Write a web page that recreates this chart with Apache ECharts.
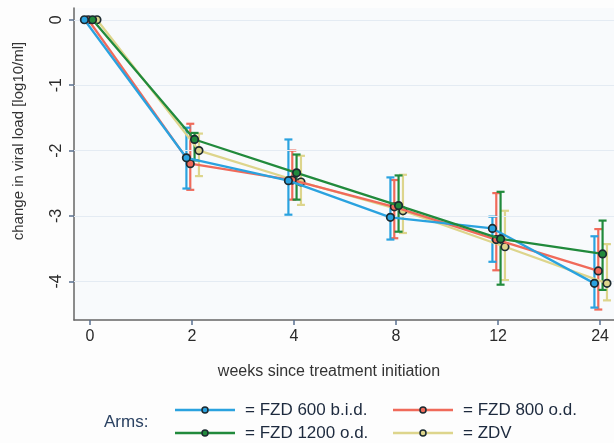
<!DOCTYPE html>
<html><head><meta charset="utf-8">
<script src="https://cdn.jsdelivr.net/npm/echarts@6/dist/echarts.min.js"></script>
<style>html,body{margin:0;padding:0;background:#fdfdfd}#c{width:614px;height:443px}</style>
</head><body><div id="c"></div>
<script>
var weeks = ['0', '2', '4', '8', '12', '24'];
var seriesNames = ['FZD 600 b.i.d.', 'FZD 800 o.d.', 'FZD 1200 o.d.', 'ZDV'];
var blueMean = [0, -2.11, -2.46, -3.02, -3.19, -4.03];
var blueLow = [null, -2.58, -2.98, -3.36, -3.70, -4.40];
var blueHigh = [null, -1.65, -1.83, -2.41, -3.01, -3.31];
var redMean = [0, -2.20, -2.45, -2.86, -3.36, -3.84];
var redLow = [null, -2.60, -2.75, -3.34, -3.83, -4.43];
var redHigh = [null, -1.59, -2.00, -2.45, -2.65, -3.20];
var greenMean = [0, -1.83, -2.34, -2.84, -3.35, -3.58];
var greenLow = [null, -2.15, -2.75, -3.24, -4.05, -4.13];
var greenHigh = [null, -1.73, -2.06, -2.38, -2.63, -3.07];
var yellowMean = [0, -2.00, -2.48, -2.92, -3.47, -4.03];
var yellowLow = [null, -2.39, -2.83, -3.26, -3.98, -4.29];
var yellowHigh = [null, -1.74, -2.08, -2.37, -2.92, -3.43];
var yTicks = [0, -1, -2, -3, -4];

var colors = ['#2aa2df', '#f06a5a', '#218a3c', '#ddd58c'];
var offsets = [-0.055, -0.017, 0.025, 0.068];
var means = [blueMean, redMean, greenMean, yellowMean];
var lows = [blueLow, redLow, greenLow, yellowLow];
var highs = [blueHigh, redHigh, greenHigh, yellowHigh];
var FONT = '"Liberation Sans", Arial, sans-serif';

var series = [];
var order = [3, 1, 0, 2];
order.forEach(function (k, idx) {
  var errData = [];
  weeks.forEach(function (w, i) {
    if (lows[k][i] !== null) errData.push([i + offsets[k], lows[k][i], highs[k][i]]);
  });
  series.push({
    type: 'custom', name: seriesNames[k] + ' err', z: 2 + idx,
    data: errData, silent: true,
    encode: { x: 0, y: [1, 2] },
    renderItem: function (params, api) {
      var x = api.value(0);
      var lo = api.coord([x, api.value(1)]);
      var hi = api.coord([x, api.value(2)]);
      var hw = 4;
      var st = { stroke: colors[k], lineWidth: 2.2 };
      return { type: 'group', children: [
        { type: 'line', shape: { x1: lo[0], y1: lo[1], x2: hi[0], y2: hi[1] }, style: st },
        { type: 'line', shape: { x1: lo[0] - hw, y1: lo[1], x2: lo[0] + hw, y2: lo[1] }, style: st },
        { type: 'line', shape: { x1: hi[0] - hw, y1: hi[1], x2: hi[0] + hw, y2: hi[1] }, style: st }
      ]};
    }
  });
});
order.forEach(function (k, idx) {
  series.push({
    type: 'line', name: seriesNames[k], z: 10 + idx,
    data: means[k].map(function (v, i) { return [i + offsets[k], v]; }),
    symbol: 'circle', symbolSize: 7.5,
    lineStyle: { color: colors[k], width: 2.3 },
    itemStyle: { color: colors[k], borderColor: '#1c2a30', borderWidth: 1.7 },
    emphasis: { disabled: true }
  });
});

var legendItems = [
  { k: 0, x: 175, y: 410 }, { k: 1, x: 393, y: 410 },
  { k: 2, x: 175, y: 433 }, { k: 3, x: 393, y: 433 }
];
var graphics = [
  { type: 'text', x: 19, y: 141, rotation: Math.PI / 2,
    style: { text: 'change in viral load [log10/ml]', font: '15px ' + FONT,
      fill: '#333', align: 'center', verticalAlign: 'middle' } },
  { type: 'text', x: 329, y: 372,
    style: { text: 'weeks since treatment initiation', font: '16px ' + FONT,
      fill: '#333', align: 'center', verticalAlign: 'middle' } },
  { type: 'text', x: 104, y: 422,
    style: { text: 'Arms:', font: '17px ' + FONT,
      fill: '#2b4262', align: 'left', verticalAlign: 'middle' } }
];
legendItems.forEach(function (it) {
  graphics.push({ type: 'line', shape: { x1: it.x, y1: it.y, x2: it.x + 60, y2: it.y },
    style: { stroke: colors[it.k], lineWidth: 2.3 } });
  graphics.push({ type: 'circle', shape: { cx: it.x + 30, cy: it.y, r: 3 },
    style: { fill: colors[it.k], stroke: '#1c2a30', lineWidth: 1.5 } });
  graphics.push({ type: 'text', x: it.x + 70, y: it.y,
    style: { text: '= ' + seriesNames[it.k], font: '17px ' + FONT,
      fill: '#1d2a3e', align: 'left', verticalAlign: 'middle' } });
});

var chart = echarts.init(document.getElementById('c'), null, { renderer: 'canvas' });
chart.setOption({
  backgroundColor: '#fdfdfd',
  animation: false,
  grid: { left: 74, top: 8, right: 0, bottom: 123, show: true, backgroundColor: '#f8fafc', borderWidth: 0 },
  xAxis: {
    type: 'value', min: -0.157, max: 5.137,
    axisLine: { show: true, onZero: false, lineStyle: { color: '#666', width: 1.5 } },
    axisTick: { show: true, length: 5, lineStyle: { color: '#5a7090', width: 1.5 }, customValues: [0, 1, 2, 3, 4, 5] },
    axisLabel: { customValues: [0, 1, 2, 3, 4, 5], margin: 9, fontSize: 16, color: '#2a2a2a',
      fontFamily: FONT,
      formatter: function (v) { return weeks[Math.round(v)]; } },
    splitLine: { show: false }
  },
  yAxis: {
    type: 'value', min: -4.59, max: 0.18,
    axisLine: { show: true, onZero: false, lineStyle: { color: '#666', width: 1.5 } },
    axisTick: { show: true, length: 5, lineStyle: { color: '#5a7090', width: 1.5 }, customValues: yTicks },
    axisLabel: { customValues: yTicks, rotate: 90, margin: 9, fontSize: 16, color: '#2a2a2a',
      fontFamily: FONT },
    splitLine: { show: false }
  },
  series: series.concat([{
    type: 'line', data: [], silent: true,
    markLine: { silent: true, symbol: 'none', label: { show: false },
      lineStyle: { color: '#e4ebf3', width: 1, type: 'solid' },
      data: yTicks.map(function (v) { return { yAxis: v }; }) }
  }]),
  graphic: graphics
});
</script></body></html>
